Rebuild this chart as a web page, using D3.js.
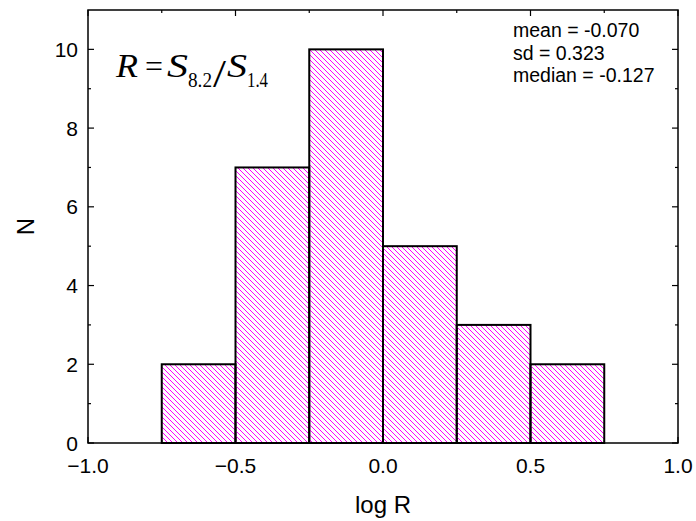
<!DOCTYPE html>
<html>
<head>
<meta charset="utf-8">
<script src="https://cdn.jsdelivr.net/npm/d3@7"></script>
<style>
  body { margin: 0; background: #fff; }
  .sans { font-family: Arial, "Liberation Sans", sans-serif; }
  .serif { font-family: "Liberation Serif", "Times New Roman", serif; }
</style>
</head>
<body>
<div id="chart"></div>
<script>
// histogram bins of log R and counts
const binStarts = [-0.75, -0.5, -0.25, 0.0, 0.25, 0.5];
const binWidth = 0.25;
const counts = [2, 7, 10, 5, 3, 2];
const xTicks = [-1.0, -0.5, 0.0, 0.5, 1.0];
const yTicks = [0, 2, 4, 6, 8, 10];
const statLines = ["mean = -0.070", "sd = 0.323", "median = -0.127"];

const width = 696, height = 521;
const margin = {left: 88, right: 18, top: 10, bottom: 78};

const svg = d3.select("#chart").append("svg")
    .attr("width", width)
    .attr("height", height);

const x = d3.scaleLinear().domain([-1, 1]).range([margin.left, width - margin.right]);
const y = d3.scaleLinear().domain([0, 11]).range([height - margin.bottom, margin.top]);

// diagonal hatch
const defs = svg.append("defs");
const pat = defs.append("pattern")
    .attr("id", "hatch")
    .attr("patternUnits", "userSpaceOnUse")
    .attr("width", 5).attr("height", 5);
pat.append("path")
    .attr("d", "M-1,-1 L6,6 M-1,4 L1,6 M4,-1 L6,1")
    .attr("stroke", "#ff00ff")
    .attr("stroke-width", 1);

// bars
svg.selectAll("rect.bar")
    .data(counts)
    .enter()
    .append("rect")
    .attr("class", "bar")
    .attr("x", (d, i) => x(binStarts[i]))
    .attr("y", d => y(d))
    .attr("width", (d, i) => x(binStarts[i] + binWidth) - x(binStarts[i]))
    .attr("height", d => y(0) - y(d))
    .attr("fill", "url(#hatch)")
    .attr("stroke", "#000")
    .attr("stroke-width", 2);

// frame
const x0 = x.range()[0], x1 = x.range()[1];
const y0 = y.range()[0], y1 = y.range()[1];
svg.append("rect")
    .attr("x", x0).attr("y", y1)
    .attr("width", x1 - x0).attr("height", y0 - y1)
    .attr("fill", "none")
    .attr("stroke", "#000")
    .attr("stroke-width", 1.5);

// ticks (inside, mirrored)
const xMinor = d3.range(-0.75, 1, 0.5);
const yMinor = d3.range(1, 11, 2);
const tk = svg.append("g").attr("stroke", "#000").attr("stroke-width", 1.2);
xTicks.forEach(v => {
    tk.append("line").attr("x1", x(v)).attr("x2", x(v)).attr("y1", y0).attr("y2", y0 - 6);
    tk.append("line").attr("x1", x(v)).attr("x2", x(v)).attr("y1", y1).attr("y2", y1 + 6);
});
xMinor.forEach(v => {
    tk.append("line").attr("x1", x(v)).attr("x2", x(v)).attr("y1", y0).attr("y2", y0 - 3);
    tk.append("line").attr("x1", x(v)).attr("x2", x(v)).attr("y1", y1).attr("y2", y1 + 3);
});
yTicks.forEach(v => {
    tk.append("line").attr("x1", x0).attr("x2", x0 + 6).attr("y1", y(v)).attr("y2", y(v));
    tk.append("line").attr("x1", x1).attr("x2", x1 - 6).attr("y1", y(v)).attr("y2", y(v));
});
yMinor.forEach(v => {
    tk.append("line").attr("x1", x0).attr("x2", x0 + 3).attr("y1", y(v)).attr("y2", y(v));
    tk.append("line").attr("x1", x1).attr("x2", x1 - 3).attr("y1", y(v)).attr("y2", y(v));
});

// tick labels
svg.selectAll("text.xt")
    .data(xTicks)
    .enter()
    .append("text")
    .attr("class", "sans")
    .attr("x", d => x(d))
    .attr("y", 473)
    .attr("text-anchor", "middle")
    .attr("font-size", 21)
    .text(d => d3.format(".1f")(d));

svg.selectAll("text.yt")
    .data(yTicks)
    .enter()
    .append("text")
    .attr("class", "sans")
    .attr("x", 78)
    .attr("y", d => y(d) + 7.5)
    .attr("text-anchor", "end")
    .attr("font-size", 21)
    .text(d => d);

// axis titles
svg.append("text")
    .attr("class", "sans")
    .attr("x", (x0 + x1) / 2)
    .attr("y", 513)
    .attr("text-anchor", "middle")
    .attr("font-size", 24)
    .text("log R");

svg.append("text")
    .attr("class", "sans")
    .attr("transform", "translate(34," + ((y0 + y1) / 2) + ") rotate(-90)")
    .attr("text-anchor", "middle")
    .attr("font-size", 24)
    .text("N");

// stats
svg.selectAll("text.stat")
    .data(statLines)
    .enter()
    .append("text")
    .attr("class", "sans")
    .attr("x", 513)
    .attr("y", (d, i) => 37 + i * 22.5)
    .attr("font-size", 19.5)
    .text(d => d);

// formula R = S8.2 / S1.4
const fparts = [
    {t: "R", x: 116, dy: 0, size: 33, it: true, w: 22},
    {t: "=", x: 145, dy: 0, size: 32, it: false, w: 18},
    {t: "S", x: 167, dy: 0, size: 33, it: true, w: 21},
    {t: "8.2", x: 188, dy: 10, size: 20, it: false, w: 24},
    {t: "/", x: 213, dy: 10, size: 40, it: false, w: 13},
    {t: "S", x: 227, dy: 0, size: 33, it: true, w: 20},
    {t: "1.4", x: 247, dy: 10, size: 20, it: false, w: 21}
];
svg.selectAll("text.f")
    .data(fparts)
    .enter()
    .append("text")
    .attr("class", "serif")
    .attr("x", d => d.x)
    .attr("y", d => 77 + d.dy)
    .attr("font-size", d => d.size)
    .attr("font-style", d => d.it ? "italic" : "normal")
    .attr("textLength", d => d.w)
    .attr("lengthAdjust", "spacingAndGlyphs")
    .text(d => d.t);
</script>
</body>
</html>
